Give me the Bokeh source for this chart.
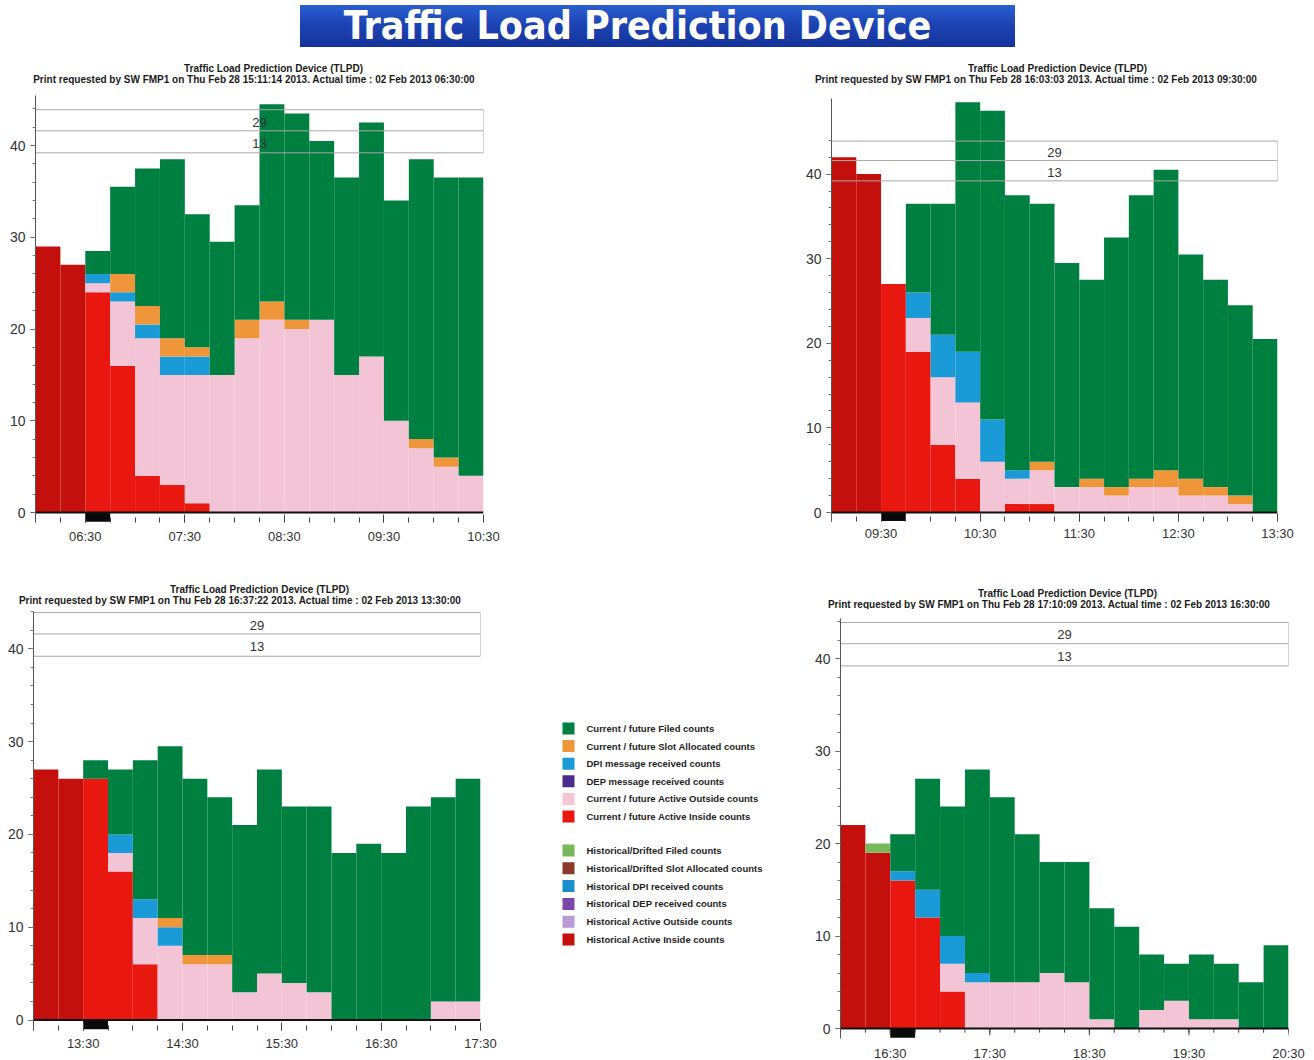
from bokeh.plotting import figure
from bokeh.layouts import row, column
from bokeh.models import Div, Spacer, FixedTicker, Range1d, ColumnDataSource, Span
from bokeh.core.properties import value
from bokeh.embed import file_html
from bokeh.resources import INLINE

# ---------------- data ----------------
BIN_HOURS = 0.25
N_BINS = 18
capacity_labels = ["29", "13"]
y_ticks = [0, 10, 20, 30, 40]

series_names = ["hist_inside", "hist_filed", "cur_inside", "outside", "dpi", "slot", "filed"]
series_colors = ["#c4100c", "#78b85a", "#e8170f", "#f2c4d6", "#1a9ad6", "#f0963a", "#008040"]

# Panel 1
p1_start = "06:00"
p1_actual = "06:30"
p1_ticks = ["06:30", "07:30", "08:30", "09:30", "10:30"]
p1_titles = ["Traffic Load Prediction Device (TLPD)",
             "Print requested by SW  FMP1 on Thu Feb 28 15:11:14 2013. Actual time : 02 Feb 2013 06:30:00"]
p1_hist_inside = [29, 27, 0, 0, 0, 0, 0, 0, 0, 0, 0, 0, 0, 0, 0, 0, 0, 0]
p1_hist_filed = [0, 0, 0, 0, 0, 0, 0, 0, 0, 0, 0, 0, 0, 0, 0, 0, 0, 0]
p1_cur_inside = [0, 0, 24, 16, 4, 3, 1, 0, 0, 0, 0, 0, 0, 0, 0, 0, 0, 0]
p1_outside = [0, 0, 1, 7, 15, 12, 14, 15, 19, 21, 20, 21, 15, 17, 10, 7, 5, 4]
p1_dpi = [0, 0, 1, 1, 1.5, 2, 2, 0, 0, 0, 0, 0, 0, 0, 0, 0, 0, 0]
p1_slot = [0, 0, 0, 2, 2, 2, 1, 0, 2, 2, 1, 0, 0, 0, 0, 1, 1, 0]
p1_filed = [0, 0, 2.5, 9.5, 15, 19.5, 14.5, 14.5, 12.5, 21.5, 22.5, 19.5, 21.5, 25.5, 24, 30.5, 30.5, 32.5]

# Panel 2
p2_start = "09:00"
p2_actual = "09:30"
p2_ticks = ["09:30", "10:30", "11:30", "12:30", "13:30"]
p2_titles = ["Traffic Load Prediction Device (TLPD)",
             "Print requested by SW  FMP1 on Thu Feb 28 16:03:03 2013. Actual time : 02 Feb 2013 09:30:00"]
p2_hist_inside = [42, 40, 0, 0, 0, 0, 0, 0, 0, 0, 0, 0, 0, 0, 0, 0, 0, 0]
p2_hist_filed = [0, 0, 0, 0, 0, 0, 0, 0, 0, 0, 0, 0, 0, 0, 0, 0, 0, 0]
p2_cur_inside = [0, 0, 27, 19, 8, 4, 0, 1, 1, 0, 0, 0, 0, 0, 0, 0, 0, 0]
p2_outside = [0, 0, 0, 4, 8, 9, 6, 3, 4, 3, 3, 2, 3, 3, 2, 2, 1, 0]
p2_dpi = [0, 0, 0, 3, 5, 6, 5, 1, 0, 0, 0, 0, 0, 0, 0, 0, 0, 0]
p2_slot = [0, 0, 0, 0, 0, 0, 0, 0, 1, 0, 1, 1, 1, 2, 2, 1, 1, 0]
p2_filed = [0, 0, 0, 10.5, 15.5, 29.5, 36.5, 32.5, 30.5, 26.5, 23.5, 29.5, 33.5, 35.5, 26.5, 24.5, 22.5, 20.5]

# Panel 3
p3_start = "13:00"
p3_actual = "13:30"
p3_ticks = ["13:30", "14:30", "15:30", "16:30", "17:30"]
p3_titles = ["Traffic Load Prediction Device (TLPD)",
             "Print requested by SW  FMP1 on Thu Feb 28 16:37:22 2013. Actual time : 02 Feb 2013 13:30:00"]
p3_hist_inside = [27, 26, 0, 0, 0, 0, 0, 0, 0, 0, 0, 0, 0, 0, 0, 0, 0, 0]
p3_hist_filed = [0, 0, 0, 0, 0, 0, 0, 0, 0, 0, 0, 0, 0, 0, 0, 0, 0, 0]
p3_cur_inside = [0, 0, 26, 16, 6, 0, 0, 0, 0, 0, 0, 0, 0, 0, 0, 0, 0, 0]
p3_outside = [0, 0, 0, 2, 5, 8, 6, 6, 3, 5, 4, 3, 0, 0, 0, 0, 2, 2]
p3_dpi = [0, 0, 0, 2, 2, 2, 0, 0, 0, 0, 0, 0, 0, 0, 0, 0, 0, 0]
p3_slot = [0, 0, 0, 0, 0, 1, 1, 1, 0, 0, 0, 0, 0, 0, 0, 0, 0, 0]
p3_filed = [0, 0, 2, 7, 15, 18.5, 19, 17, 18, 22, 19, 20, 18, 19, 18, 23, 22, 24]

# Panel 4
p4_start = "16:00"
p4_actual = "16:30"
p4_ticks = ["16:30", "17:30", "18:30", "19:30", "20:30"]
p4_titles = ["Traffic Load Prediction Device (TLPD)",
             "Print requested by SW  FMP1 on Thu Feb 28 17:10:09 2013. Actual time : 02 Feb 2013 16:30:00"]
p4_hist_inside = [22, 19, 0, 0, 0, 0, 0, 0, 0, 0, 0, 0, 0, 0, 0, 0, 0, 0]
p4_hist_filed = [0, 1, 0, 0, 0, 0, 0, 0, 0, 0, 0, 0, 0, 0, 0, 0, 0, 0]
p4_cur_inside = [0, 0, 16, 12, 4, 0, 0, 0, 0, 0, 0, 0, 0, 0, 0, 0, 0, 0]
p4_outside = [0, 0, 0, 0, 3, 5, 5, 5, 6, 5, 1, 0, 2, 3, 1, 1, 0, 0]
p4_dpi = [0, 0, 1, 3, 3, 1, 0, 0, 0, 0, 0, 0, 0, 0, 0, 0, 0, 0]
p4_slot = [0, 0, 0, 0, 0, 0, 0, 0, 0, 0, 0, 0, 0, 0, 0, 0, 0, 0]
p4_filed = [0, 0, 4, 12, 14, 22, 20, 16, 12, 13, 12, 11, 6, 4, 7, 6, 5, 9]

legend_labels = ["Current / future Filed counts", "Current / future Slot Allocated counts",
                 "DPI message received counts", "DEP message received counts",
                 "Current / future Active Outside counts", "Current / future Active Inside counts",
                 "Historical/Drifted Filed counts", "Historical/Drifted Slot Allocated counts",
                 "Historical DPI received counts", "Historical DEP received counts",
                 "Historical Active Outside counts", "Historical Active Inside counts"]
legend_colors = ["#008040", "#f0963a", "#1a9ad6", "#4b2c8e", "#f4c6d8", "#e8170f",
                 "#78b85a", "#8b3a2a", "#1a8fcc", "#7b44aa", "#b99ad2", "#c4100c"]

banner_text = "Traffic Load Prediction Device"

FONT = "Liberation Sans"
W = 1314


def hrs(t):
    h, m = t.split(":")
    return int(h) + int(m) / 60.0


def bare_fig(w, h, x_range, y_range):
    f = figure(width=w, height=h, x_range=x_range, y_range=y_range, output_backend="svg",
               toolbar_location=None, title=None, x_axis_location=None, y_axis_location=None,
               min_border=0, min_border_left=0, min_border_right=0,
               min_border_top=0, min_border_bottom=0)
    f.xgrid.visible = False
    f.ygrid.visible = False
    f.outline_line_color = None
    return f


def make_panel(start, actual, ticks, data, g):
    x0 = hrs(start)
    x1 = x0 + N_BINS * BIN_HOURS
    cx, cy, w, h = g["canvas"]
    ppu = g["ppu"]
    tb = round(g["top"] - cy)
    fb = g["fb"]
    bb = cy + h - fb
    ft = cy + tb
    y_end = (g["zero"] - ft) / ppu
    y_start = -(fb - g["zero"]) / ppu
    lb = round(g["fl"] - cx)
    rb = round(cx + w - g["fr"])
    strip = g.get("strip", False)
    p = figure(width=w, height=h, x_range=Range1d(x0, x1), y_range=Range1d(y_start, y_end),
               output_backend="svg", toolbar_location=None, title=None,
               x_axis_location=None if strip else "below",
               min_border_left=lb, min_border_right=rb,
               min_border_top=tb, min_border_bottom=bb)
    p.xgrid.visible = False
    p.ygrid.visible = False
    p.outline_line_color = None

    src = dict(x=[x0 + (i + 0.5) * BIN_HOURS for i in range(N_BINS)])
    for k in series_names:
        src[k] = data[k]
    p.vbar_stack(series_names, x="x", width=BIN_HOURS, fill_color=series_colors,
                 line_color=None, source=ColumnDataSource(src))

    p.add_layout(Span(location=0, dimension="width", line_color="#111111", line_width=2))
    a = hrs(actual)
    p.quad(left=[a], right=[a + BIN_HOURS], bottom=[-1.0], top=[0], fill_color="#0a0a0a", line_color=None)

    # capacity box
    p.quad(left=[x0], right=[x1], bottom=[39.2], top=[43.9], fill_color=None,
           line_color="#a8a8a8", line_width=1)
    p.segment(x0=[x0], x1=[x1], y0=[41.6], y1=[41.6], line_color="#a8a8a8", line_width=1)
    mid = (x0 + x1) / 2
    p.text(x=[mid, mid], y=[42.55, 40.2], text=capacity_labels, text_align="center",
           text_baseline="middle", text_font=value(FONT), text_font_size="13px", text_color="#333333")

    tick_h = [hrs(t) for t in ticks]
    minor_h = [x0 + i * BIN_HOURS for i in range(N_BINS + 1)]
    if strip:
        p.segment(x0=tick_h, x1=tick_h, y0=[0] * len(tick_h), y1=[-0.75] * len(tick_h),
                  line_color="#444444", line_width=1)
        p.segment(x0=minor_h, x1=minor_h, y0=[0] * len(minor_h), y1=[-0.45] * len(minor_h),
                  line_color="#444444", line_width=1)
    else:
        xa = p.xaxis[0]
        xa.ticker = FixedTicker(ticks=tick_h, minor_ticks=minor_h)
        xa.major_label_overrides = {t: lab for t, lab in zip(tick_h, ticks)}
        xa.axis_line_color = None
        xa.major_tick_in = 8
        xa.major_tick_out = 0
        xa.minor_tick_in = 5
        xa.minor_tick_out = 0
        xa.major_tick_line_color = "#444444"
        xa.minor_tick_line_color = "#444444"
        xa.major_label_standoff = g["xstand"]
        xa.major_label_text_font = FONT
        xa.major_label_text_font_size = "13px"
        xa.major_label_text_color = "#333333"

    ya = p.yaxis[0]
    ya.ticker = FixedTicker(ticks=y_ticks, minor_ticks=list(range(0, 46, 2)))
    ya.axis_line_color = "#555555"
    ya.major_tick_out = 5
    ya.major_tick_in = 0
    ya.minor_tick_out = 3
    ya.minor_tick_in = 0
    ya.major_tick_line_color = "#555555"
    ya.minor_tick_line_color = "#777777"
    ya.major_label_standoff = 5
    ya.major_label_text_font = FONT
    ya.major_label_text_font_size = "14px"
    ya.major_label_text_color = "#333333"

    if not strip:
        return column(p)
    # tick labels in a strip below (full-width frame so edge labels are not clipped)
    sh = g["strip_h"]
    pph = (g["fr"] - g["fl"]) / (x1 - x0)
    s = bare_fig(w, sh, Range1d(x0 - lb / pph, x1 + rb / pph), Range1d(0, sh))
    s.text(x=tick_h, y=[sh - g["label_y"]] * len(tick_h), text=ticks, text_align="center",
           text_baseline="middle", text_font=value(FONT), text_font_size="13px", text_color="#333333")
    return column(column(p), column(s))


def pack(hi, hf, ci, o, d, s, f):
    return dict(hist_inside=hi, hist_filed=hf, cur_inside=ci, outside=o, dpi=d, slot=s, filed=f)


# ---- layout rows (page pixels) ----
BANNER_H = 47
HB_Y, HB_H = 47, 41          # header strip row B
RB_Y, RB_H = 88, 467         # plot row B
HC_Y, HC_H = 555, 54         # header strip row C
RC_Y, RC_H = 609, 451        # plot row C

g1 = dict(canvas=(0, RB_Y, 520, RB_H), fl=35, fr=483, top=95, zero=512, ppu=9.175, fb=522, xstand=6)
g2 = dict(canvas=(790, RB_Y, W - 790, RB_H), fl=831, fr=1277, top=98, zero=512, ppu=8.46, fb=521, xstand=4)
g3 = dict(canvas=(0, RC_Y, 520, RC_H), fl=33, fr=480, top=611, zero=1019.5, ppu=9.28, fb=1030, xstand=5)
g4 = dict(canvas=(800, RC_Y, W - 800, RC_H - 20), fl=840, fr=1288, top=618, zero=1028, ppu=9.25, fb=1038,
          strip=True, strip_h=20, label_y=13)

f1 = make_panel(p1_start, p1_actual, p1_ticks,
                pack(p1_hist_inside, p1_hist_filed, p1_cur_inside, p1_outside, p1_dpi, p1_slot, p1_filed), g1)
f2 = make_panel(p2_start, p2_actual, p2_ticks,
                pack(p2_hist_inside, p2_hist_filed, p2_cur_inside, p2_outside, p2_dpi, p2_slot, p2_filed), g2)
f3 = make_panel(p3_start, p3_actual, p3_ticks,
                pack(p3_hist_inside, p3_hist_filed, p3_cur_inside, p3_outside, p3_dpi, p3_slot, p3_filed), g3)
f4 = make_panel(p4_start, p4_actual, p4_ticks,
                pack(p4_hist_inside, p4_hist_filed, p4_cur_inside, p4_outside, p4_dpi, p4_slot, p4_filed), g4)


def header(y0, h, entries):
    f = bare_fig(W, h, Range1d(0, W), Range1d(h, 0))
    xs, ys, ts = [], [], []
    for titles, cx1, cx2, y1, y2 in entries:
        xs += [cx1, cx2]
        ys += [y1 - y0, y2 - y0]
        ts += [titles[0], titles[1]]
    f.text(x=xs, y=ys, text=ts, text_align="center", text_baseline="middle",
           text_font=value(FONT), text_font_size="10px", text_font_style="bold", text_color="#1a1a1a")
    return f


hb = header(HB_Y, HB_H, [(p1_titles, 273, 255, 67.5, 79), (p2_titles, 1057, 1037, 67.5, 79)])
hc = header(HC_Y, HC_H, [(p3_titles, 259, 241, 588.5, 599.5), (p4_titles, 1067, 1050, 593, 604)])

# legend panel
LX, LW = 520, 280
lg = bare_fig(LW, RC_H, Range1d(0, LW), Range1d(RC_H, 0))
ly = [728 + 17.6 * i - RC_Y for i in range(6)] + [850 + 17.8 * i - RC_Y for i in range(6)]
lg.rect(x=[568 - LX] * 12, y=ly, width=12, height=12, fill_color=legend_colors, line_color=None)
lg.text(x=[586 - LX] * 12, y=ly, text=legend_labels, text_baseline="middle", text_align="left",
        text_font=value(FONT), text_font_size="9.5px", text_font_style="bold", text_color="#1e1e1e")

banner = Div(text=(
    '<div style="position:relative;left:300px;top:5px;width:715px;height:42px;'
    'background:linear-gradient(180deg,#2a5fd0 0%,#1d44b4 45%,#14339a 100%);'
    'color:white;font-family:\'DejaVu Sans Condensed\',\'DejaVu Sans\',sans-serif;'
    'font-stretch:condensed;font-weight:bold;font-size:39px;line-height:42px;text-align:center;'
    'box-sizing:border-box;padding-right:40px;white-space:nowrap;">'
    + banner_text + '</div>'), width=W, height=BANNER_H, margin=0)

layout = column(
    banner,
    hb,
    row(f1, Spacer(width=790 - 520, height=RB_H), f2),
    hc,
    row(f3, column(lg), f4),
)

open("out.html", "w").write(file_html(layout, INLINE))
